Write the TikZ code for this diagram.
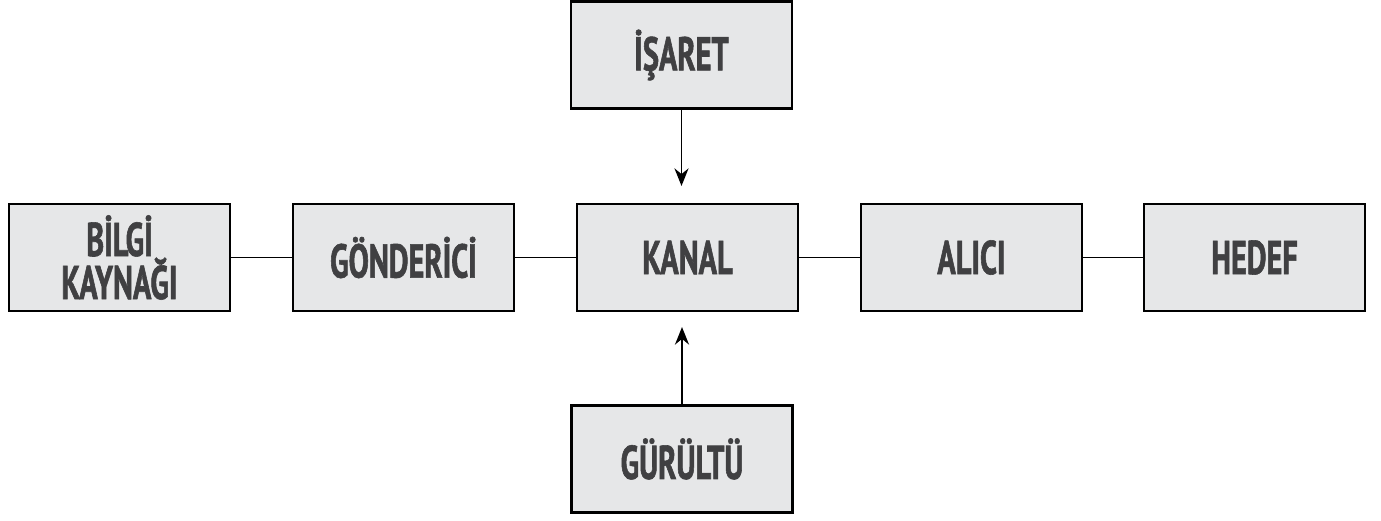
\documentclass[tikz,border=0pt]{standalone}
\usepackage{fontspec}
\usepackage{tikz}
\usetikzlibrary{arrows.meta,positioning}
\newfontfamily\boxfont{PT Sans}[FakeStretch=0.64,FakeBold=1.2]
\definecolor{boxfill}{RGB}{230,231,232}
\definecolor{boxtext}{RGB}{64,64,66}

\begin{document}
\begin{tikzpicture}[x=0.02cm, y=-0.02cm,
    box/.style={rectangle, draw=black, line width=1.2pt, fill=boxfill, minimum width=4.42cm, minimum height=2.14cm, font=\boxfont\bfseries\fontsize{27}{24.5}\selectfont, text=boxtext, align=center},
    link/.style={line width=1.1pt},
    arrow/.style={-{Stealth[length=10pt,width=8pt]}, line width=1.1pt}
]
    \useasboundingbox (0,0) rectangle (1381,520);

    \node[box] (src) at (119.5,257.5) {BİLGİ\\KAYNAĞI};
    \node[box] (snd) at (403.5,257.5) {GÖNDERİCİ};
    \node[box] (kanal) at (687.5,257.5) {KANAL};
    \node[box] (alici) at (971.5,257.5) {ALICI};
    \node[box] (hedef) at (1254.5,257.5) {HEDEF};
    \node[box] (isaret) at (681.5,55) {İŞARET};
    \node[box] (gurultu) at (682,459) {GÜRÜLTÜ};

    \draw[link] (src) -- (snd);
    \draw[link] (snd) -- (kanal);
    \draw[link] (kanal) -- (alici);
    \draw[link] (alici) -- (hedef);
    \draw[arrow, shorten >=0.34cm] (isaret) -- (isaret |- kanal.north);
    \draw[arrow, shorten >=0.3cm] (gurultu) -- (gurultu |- kanal.south);
\end{tikzpicture}
\end{document}
